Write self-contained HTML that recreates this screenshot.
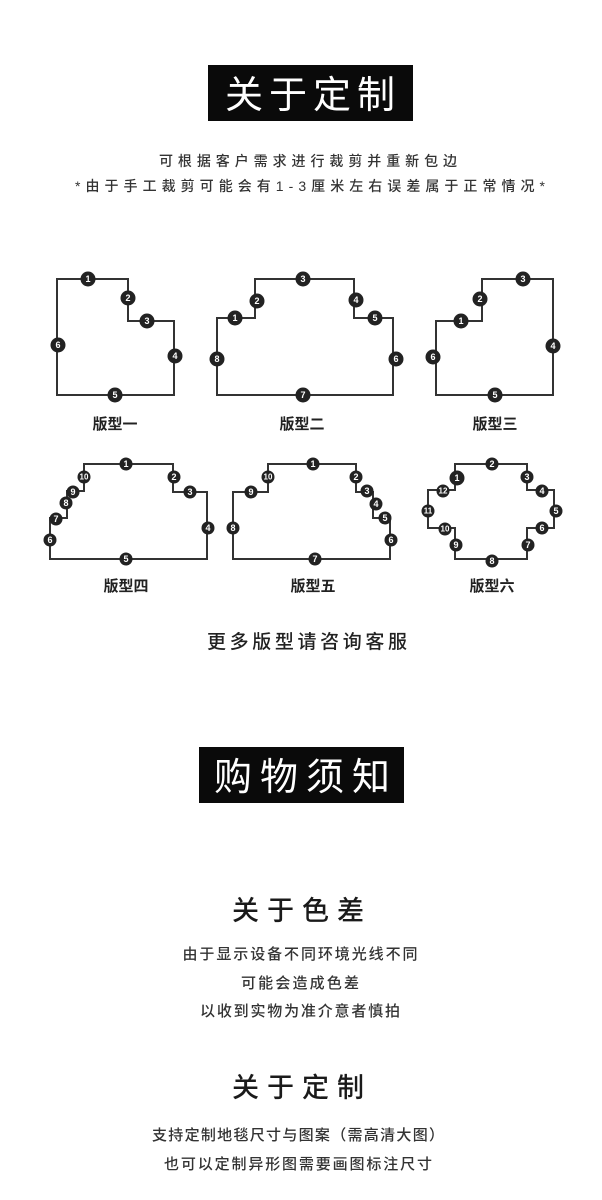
<!DOCTYPE html>
<html><head><meta charset="utf-8"><style>
html,body{margin:0;padding:0;background:#fff;}
svg{display:block;}
text{font-family:"Liberation Sans","Noto Sans CJK SC",sans-serif;}
.n{font-size:9px;font-weight:bold;fill:#fff;text-anchor:middle;dominant-baseline:central;}
.lb{font-size:15px;font-weight:bold;fill:#222;text-anchor:middle;}
.b{font-weight:500;}
</style></head><body>
<svg width="602" height="1200" viewBox="0 0 602 1200" xmlns="http://www.w3.org/2000/svg">
<rect x="208" y="65" width="205" height="56" fill="#0a0a0a"/>
<text x="310" y="108" font-size="38" fill="#fff" text-anchor="middle" textLength="170" lengthAdjust="spacing">关于定制</text>
<text class="b" x="308" y="166" font-size="14" fill="#333" text-anchor="middle" textLength="298" lengthAdjust="spacing">可根据客户需求进行裁剪并重新包边</text>
<text class="b" x="310" y="191" font-size="14" fill="#333" text-anchor="middle" textLength="470" lengthAdjust="spacing">*由于手工裁剪可能会有1-3厘米左右误差属于正常情况*</text>

<g fill="none" stroke="#333" stroke-width="2">
<polygon points="57,279 128,279 128,321 174,321 174,395 57,395"/>
<polygon points="217,395 217,318 255,318 255,279 354,279 354,318 393,318 393,395"/>
<polygon points="436,321 482,321 482,279 553,279 553,395 436,395"/>
<polygon points="84,464 173,464 173,492 207,492 207,559 50,559 50,518 67,518 67,491 84,491"/>
<polygon points="268,464 356,464 356,492 373,492 373,518 390,518 390,559 233,559 233,492 268,492"/>
<polygon points="455,464 527,464 527,490 554,490 554,528 527,528 527,559 455,559 455,528 428,528 428,490 455,490"/>
</g>
<g fill="#222">
<circle cx="88" cy="279" r="7.5"/><circle cx="128" cy="298" r="7.5"/><circle cx="147" cy="321" r="7.5"/><circle cx="175" cy="356" r="7.5"/><circle cx="115" cy="395" r="7.5"/><circle cx="58" cy="345" r="7.5"/>
<circle cx="235" cy="318" r="7.5"/><circle cx="257" cy="301" r="7.5"/><circle cx="303" cy="279" r="7.5"/><circle cx="356" cy="300" r="7.5"/><circle cx="375" cy="318" r="7.5"/><circle cx="396" cy="359" r="7.5"/><circle cx="303" cy="395" r="7.5"/><circle cx="217" cy="359" r="7.5"/>
<circle cx="461" cy="321" r="7.5"/><circle cx="480" cy="299" r="7.5"/><circle cx="523" cy="279" r="7.5"/><circle cx="553" cy="346" r="7.5"/><circle cx="495" cy="395" r="7.5"/><circle cx="433" cy="357" r="7.5"/>
<circle cx="126" cy="464" r="6.5"/><circle cx="174" cy="477" r="6.5"/><circle cx="190" cy="492" r="6.5"/><circle cx="208" cy="528" r="6.5"/><circle cx="126" cy="559" r="6.5"/><circle cx="50" cy="540" r="6.5"/><circle cx="56" cy="519" r="6.5"/><circle cx="66" cy="503" r="6.5"/><circle cx="73" cy="492" r="6.5"/><circle cx="84" cy="477" r="6.5"/>
<circle cx="313" cy="464" r="6.5"/><circle cx="356" cy="477" r="6.5"/><circle cx="367" cy="491" r="6.5"/><circle cx="376" cy="504" r="6.5"/><circle cx="385" cy="518" r="6.5"/><circle cx="391" cy="540" r="6.5"/><circle cx="315" cy="559" r="6.5"/><circle cx="233" cy="528" r="6.5"/><circle cx="251" cy="492" r="6.5"/><circle cx="268" cy="477" r="6.5"/>
<circle cx="457" cy="478" r="7.5"/><circle cx="492" cy="464" r="6.5"/><circle cx="527" cy="477" r="6.5"/><circle cx="542" cy="491" r="6.5"/><circle cx="556" cy="511" r="6.5"/><circle cx="542" cy="528" r="6.5"/><circle cx="528" cy="545" r="6.5"/><circle cx="492" cy="561" r="6.5"/><circle cx="456" cy="545" r="6.5"/><circle cx="445" cy="529" r="6.5"/><circle cx="428" cy="511" r="6.5"/><circle cx="443" cy="491" r="6.5"/>
</g>
<g class="n">
<text x="88" y="279">1</text><text x="128" y="298">2</text><text x="147" y="321">3</text><text x="175" y="356">4</text><text x="115" y="395">5</text><text x="58" y="345">6</text>
<text x="235" y="318">1</text><text x="257" y="301">2</text><text x="303" y="279">3</text><text x="356" y="300">4</text><text x="375" y="318">5</text><text x="396" y="359">6</text><text x="303" y="395">7</text><text x="217" y="359">8</text>
<text x="461" y="321">1</text><text x="480" y="299">2</text><text x="523" y="279">3</text><text x="553" y="346">4</text><text x="495" y="395">5</text><text x="433" y="357">6</text>
<text x="126" y="464">1</text><text x="174" y="477">2</text><text x="190" y="492">3</text><text x="208" y="528">4</text><text x="126" y="559">5</text><text x="50" y="540">6</text><text x="56" y="519">7</text><text x="66" y="503">8</text><text x="73" y="492">9</text><text x="84" y="477" font-size="8">10</text>
<text x="313" y="464">1</text><text x="356" y="477">2</text><text x="367" y="491">3</text><text x="376" y="504">4</text><text x="385" y="518">5</text><text x="391" y="540">6</text><text x="315" y="559">7</text><text x="233" y="528">8</text><text x="251" y="492">9</text><text x="268" y="477" font-size="8">10</text>
<text x="457" y="478">1</text><text x="492" y="464">2</text><text x="527" y="477">3</text><text x="542" y="491">4</text><text x="556" y="511">5</text><text x="542" y="528">6</text><text x="528" y="545">7</text><text x="492" y="561">8</text><text x="456" y="545">9</text><text x="445" y="529" font-size="8">10</text><text x="428" y="511" font-size="8">11</text><text x="443" y="491" font-size="8">12</text>
</g>
<text class="lb" x="115" y="429">版型一</text>
<text class="lb" x="302" y="429">版型二</text>
<text class="lb" x="495" y="429">版型三</text>
<text class="lb" x="126" y="591">版型四</text>
<text class="lb" x="313" y="591">版型五</text>
<text class="lb" x="492" y="591">版型六</text>
<text x="307" y="648" font-size="19" fill="#222" text-anchor="middle" textLength="200" lengthAdjust="spacing" font-weight="500">更多版型请咨询客服</text>

<rect x="199" y="747" width="205" height="56" fill="#0a0a0a"/>
<text x="302" y="790" font-size="38" fill="#fff" text-anchor="middle" textLength="176" lengthAdjust="spacing">购物须知</text>

<text class="b" x="298" y="920" font-size="27" fill="#1a1a1a" text-anchor="middle" textLength="132" lengthAdjust="spacing">关于色差</text>
<text class="b" x="300" y="959" font-size="15" fill="#333" text-anchor="middle" textLength="235" lengthAdjust="spacing">由于显示设备不同环境光线不同</text>
<text class="b" x="300" y="988" font-size="15" fill="#333" text-anchor="middle" textLength="118" lengthAdjust="spacing">可能会造成色差</text>
<text class="b" x="300" y="1016" font-size="15" fill="#333" text-anchor="middle" textLength="200" lengthAdjust="spacing">以收到实物为准介意者慎拍</text>
<text class="b" x="298" y="1097" font-size="27" fill="#1a1a1a" text-anchor="middle" textLength="132" lengthAdjust="spacing">关于定制</text>
<text class="b" x="298" y="1140" font-size="15" fill="#333" text-anchor="middle" textLength="292" lengthAdjust="spacing">支持定制地毯尺寸与图案（需高清大图）</text>
<text class="b" x="298" y="1169" font-size="15" fill="#333" text-anchor="middle" textLength="268" lengthAdjust="spacing">也可以定制异形图需要画图标注尺寸</text>
</svg>
</body></html>
